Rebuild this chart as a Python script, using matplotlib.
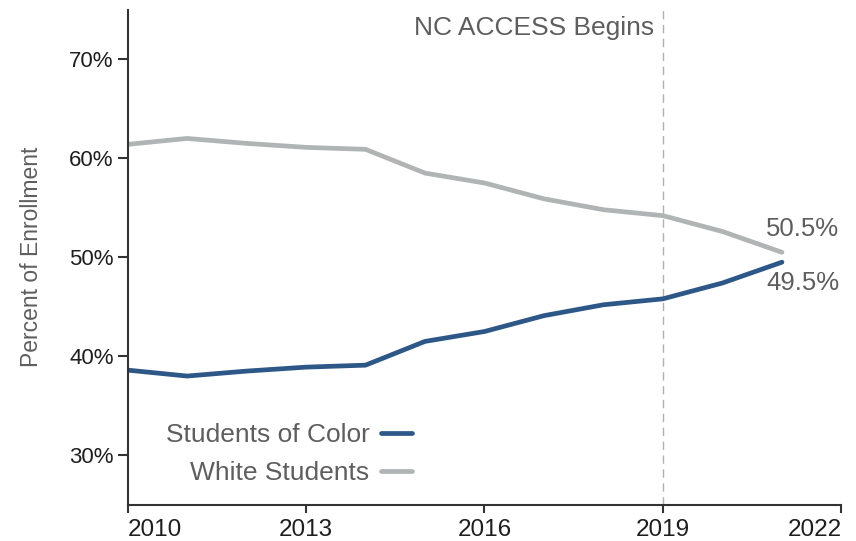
import matplotlib
matplotlib.use("Agg")
import matplotlib.pyplot as plt
from matplotlib.ticker import FuncFormatter

plt.rcParams['font.family'] = ['Liberation Sans', 'DejaVu Sans']

# ── data ──────────────────────────────────────────────────────────────────────
years = [2010, 2011, 2012, 2013, 2014, 2015, 2016, 2017, 2018, 2019, 2020, 2021]
color_pct = [38.6, 38.0, 38.5, 38.9, 39.1, 41.5, 42.5, 44.1, 45.2, 45.8, 47.4, 49.5]
white_pct = [61.4, 62.0, 61.5, 61.1, 60.9, 58.5, 57.5, 55.9, 54.8, 54.2, 52.6, 50.5]
x_ticks = [2010, 2013, 2016, 2019, 2022]
y_ticks = [30, 40, 50, 60, 70]
event_year = 2019
event_label = "NC ACCESS Begins"

BLUE = "#2c5787"
GRAY = "#b1b4b4"
TEXT = "#5e5e5e"

fig = plt.figure(figsize=(8.56, 5.41), dpi=100)
ax = fig.add_axes([0.149, 0.067, 0.834, 0.915])

ax.plot(years, color_pct, color=BLUE, lw=3.4, solid_capstyle='round', label="Students of Color")
ax.plot(years, white_pct, color=GRAY, lw=3.4, solid_capstyle='round', label="White Students")

ax.axvline(event_year, color="#b0b0b0", lw=1, ls=(0, (6, 4)), zorder=0)
ax.text(event_year - 0.15, 72.4, event_label, ha='right', va='baseline', fontsize=19, color=TEXT)

# end-point value labels
ax.text(years[-1] - 0.27, white_pct[-1] + 2.35, f"{white_pct[-1]:.1f}%",
        ha='left', va='center', fontsize=18.5, color=TEXT)
ax.text(years[-1] - 0.27, color_pct[-1] - 2.1, f"{color_pct[-1]:.1f}%",
        ha='left', va='center', fontsize=18.5, color=TEXT)

ax.set_xlim(2010, 2022)
ax.set_ylim(25, 75)
ax.set_xticks(x_ticks)
ax.set_yticks(y_ticks)
ax.yaxis.set_major_formatter(FuncFormatter(lambda v, _: f"{v:.0f}%"))

for s in ['top', 'right']:
    ax.spines[s].set_visible(False)
for s in ['left', 'bottom']:
    ax.spines[s].set_color("#333333")
    ax.spines[s].set_linewidth(1.5)

ax.tick_params(axis='both', colors="#333333", labelcolor="#1e1e1e", labelsize=16,
               width=1.5)
ax.tick_params(axis='y', length=7, pad=3)
ax.tick_params(axis='x', length=5.5, pad=5, labelsize=17.5)
xl = ax.get_xticklabels()
xl[0].set_ha('left')
xl[-1].set_ha('right')

ax.set_ylabel("Percent of Enrollment", fontsize=16.5, color=TEXT, labelpad=19)

leg = ax.legend(loc='lower left', bbox_to_anchor=(0.02, -0.008), frameon=False,
                markerfirst=False, fontsize=19, handlelength=1.17, handletextpad=0.45,
                labelspacing=0.52)
for t in leg.get_texts():
    t.set_color(TEXT)
    t.set_ha('right')
leg._legend_box.align = 'right'

fig.savefig("out.png", dpi=100)
